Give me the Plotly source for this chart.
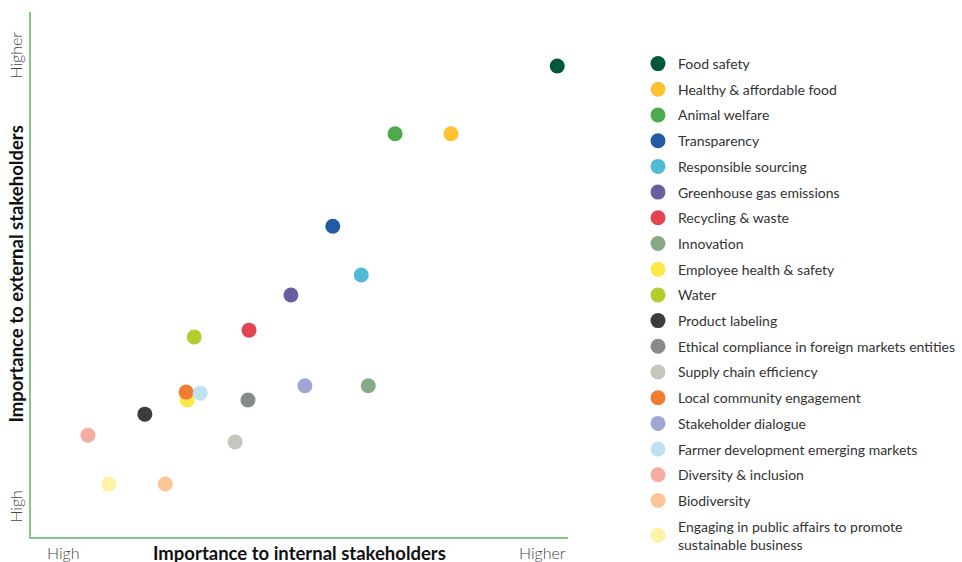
import plotly.graph_objects as go

categories = [
    "Food safety", "Healthy & affordable food", "Animal welfare", "Transparency",
    "Responsible sourcing", "Greenhouse gas emissions", "Recycling & waste", "Innovation",
    "Employee health & safety", "Water", "Product labeling",
    "Ethical compliance in foreign markets entities", "Supply chain efficiency",
    "Local community engagement", "Stakeholder dialogue", "Farmer development emerging markets",
    "Diversity & inclusion", "Biodiversity",
    "Engaging in public affairs to promote<br>sustainable business",
]
internal = [98.0, 78.2, 67.8, 56.2, 61.5, 48.4, 40.6, 62.8, 29.1, 30.4, 21.2,
            40.4, 38.0, 28.9, 51.0, 31.5, 10.6, 25.0, 14.5]
external = [89.7, 76.8, 76.8, 59.2, 49.9, 46.1, 39.4, 28.8, 26.1, 38.1, 23.4,
            26.1, 18.1, 27.6, 28.8, 27.4, 19.4, 10.1, 10.1]
colors = ["#00573a", "#fdc22f", "#4caa4c", "#235ba3", "#4ebcd4", "#6a5ea0", "#e4444f",
          "#86aa88", "#fde84a", "#b5cc2e", "#3c3c3c", "#878c8a", "#c8c5bd", "#ef7d31",
          "#a0a5d6", "#bde3ee", "#f5ada0", "#fbc597", "#fdf3a4"]

FONT = "Lato"
fig = go.Figure()
for i, (c, x, y, col) in enumerate(zip(categories, internal, external, colors)):
    fig.add_trace(go.Scatter(
        x=[x], y=[y], mode="markers", name=c, legendgroup=f"g{i}",
        marker=dict(size=15, color=col, line=dict(width=0)),
    ))

axis_line = "#86c686"
fig.update_layout(
    width=962, height=562,
    margin=dict(l=31, r=394, t=12, b=25),
    plot_bgcolor="white", paper_bgcolor="white",
    font=dict(family=FONT, color="#333333", size=14),
    xaxis=dict(range=[0, 100], showline=True, linecolor=axis_line, linewidth=1.5,
               showgrid=False, zeroline=False, showticklabels=False, ticks=""),
    yaxis=dict(range=[0, 100], showline=True, linecolor=axis_line, linewidth=1.5,
               showgrid=False, zeroline=False, showticklabels=False, ticks=""),
    legend=dict(xref="container", yref="container", x=638 / 962, y=1 - 48 / 562,
                xanchor="left", yanchor="top", maxheight=560,
                font=dict(family=FONT, size=14, color="#333333"),
                tracegroupgap=4.5, itemsizing="trace",
                bgcolor="rgba(0,0,0,0)"),
    showlegend=True,
)

light = dict(family=FONT, size=16, color="#444444", weight=300)
ann = [
    dict(x=0.5, y=0, xref="paper", yref="paper", yanchor="top", yshift=-3,
         text="<b>Importance to internal stakeholders</b>", showarrow=False,
         font=dict(family=FONT, size=18.5, color="#111111")),
    dict(x=0, y=0.5, xref="paper", yref="paper", xanchor="right", xshift=-3,
         text="<b>Importance to external stakeholders</b>", showarrow=False, textangle=-90,
         font=dict(family=FONT, size=18.5, color="#111111")),
    dict(x=6.0, y=0, xref="x", yref="paper", yanchor="top", yshift=-4,
         text="High", showarrow=False, font=light),
    dict(x=95.3, y=0, xref="x", yref="paper", yanchor="top", yshift=-4,
         text="Higher", showarrow=False, font=light),
    dict(x=0, y=5.7, xref="paper", yref="y", xanchor="right", xshift=-4,
         text="High", showarrow=False, textangle=-90, font=light),
    dict(x=0, y=91.8, xref="paper", yref="y", xanchor="right", xshift=-4,
         text="Higher", showarrow=False, textangle=-90, font=light),
]
fig.update_layout(annotations=ann)

fig.write_html("out.html", config={"displayModeBar": False},
               post_script="document.body.style.margin='0';")
